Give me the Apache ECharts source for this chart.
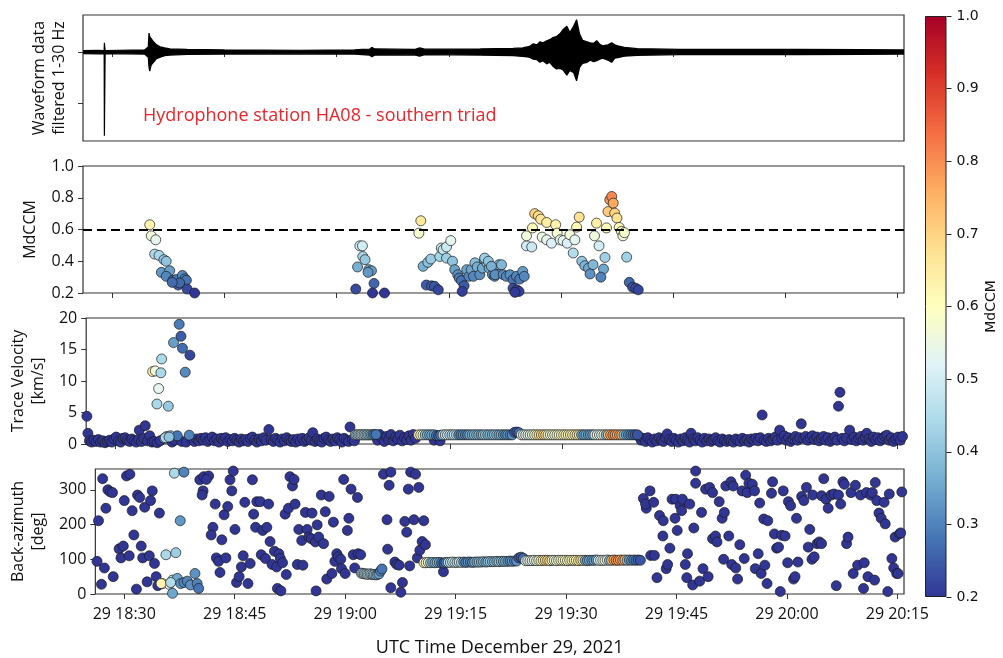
<!DOCTYPE html>
<html>
<head>
<meta charset="utf-8">
<title>HA08 southern triad</title>
<script src="https://cdn.jsdelivr.net/npm/echarts@6/dist/echarts.min.js"></script>
<style>
  html, body { margin: 0; padding: 0; background: #fff; }
  #main { width: 1003px; height: 658px; }
</style>
</head>
<body>
<div id="main"></div>
<script>
// time is given in minutes after 18:00 UTC, 29 Dec 2021
var timeTicks = [30, 45, 60, 75, 90, 105, 120, 135];
var ccmTicks = [0.2, 0.4, 0.6, 0.8, 1.0];
var velTicks = [0, 5, 10, 15, 20];
var bazTicks = [0, 100, 200, 300];
var cbarTicks = [0.2, 0.3, 0.4, 0.5, 0.6, 0.7, 0.8, 0.9, 1.0];
var threshold = 0.6;
var lowCcm = 0.2; // detections whose MdCCM is below the colour floor

// RdYlBu reversed
var cmap = ['#313695', '#4575b4', '#74add1', '#abd9e9', '#e0f3f8', '#ffffbf',
            '#fee090', '#fdae61', '#f46d43', '#d73027', '#a50026'];

// waveform envelope (relative amplitude)
var waveTime = [26.07, 28.0, 28.9, 28.93, 29.0, 29.03, 34.3, 34.8, 34.9, 35.0, 35.2, 35.5, 35.9, 36.4, 37.0, 37.7,
  40, 45, 55, 62.4, 63.4, 64.4, 64.7, 65.1, 70.4, 71.1, 71.8, 79.2, 83.6, 84.9, 85.8, 86.3, 86.8, 87.2, 87.6,
  88.1, 88.5, 88.9, 89.4, 89.9, 90.3, 90.8, 91.2, 91.7, 92.1, 92.5, 92.9, 93.5, 93.9, 94.4, 94.8, 95.2, 95.6,
  96.3, 96.8, 97.2, 97.6, 98.5, 100.2, 105.9, 115, 122, 130, 135.9];
var waveUpper = [0.03, 0.035, 0.03, 0.18, 0.18, 0.03, 0.04, 0.1, 0.37, 0.3, 0.28, 0.2, 0.14, 0.1, 0.08, 0.06,
  0.05, 0.04, 0.035, 0.04, 0.05, 0.055, 0.09, 0.06, 0.05, 0.08, 0.055, 0.06, 0.07, 0.08, 0.11, 0.16, 0.14, 0.2, 0.18,
  0.22, 0.24, 0.28, 0.3, 0.36, 0.44, 0.5, 0.38, 0.5, 0.63, 0.35, 0.23, 0.2, 0.18, 0.17, 0.22, 0.15, 0.12,
  0.14, 0.18, 0.14, 0.12, 0.09, 0.065, 0.05, 0.05, 0.05, 0.045, 0.04];
var waveLower = [-0.03, -0.035, -0.03, -1.63, -1.63, -0.03, -0.04, -0.1, -0.3, -0.37, -0.25, -0.2, -0.13, -0.1, -0.07, -0.06,
  -0.045, -0.04, -0.035, -0.04, -0.05, -0.06, -0.09, -0.06, -0.055, -0.08, -0.05, -0.06, -0.07, -0.085, -0.1, -0.14, -0.15, -0.2, -0.17,
  -0.23, -0.2, -0.27, -0.33, -0.32, -0.35, -0.45, -0.36, -0.4, -0.56, -0.3, -0.22, -0.2, -0.16, -0.19, -0.17, -0.14, -0.12,
  -0.16, -0.2, -0.12, -0.11, -0.08, -0.065, -0.05, -0.05, -0.05, -0.045, -0.04];

// MdCCM panel: [time, MdCCM]
var ccmPoints = [
  [35.0,.63],[35.2,.56],[35.8,.535],[35.66,.445],[36.24,.437],[36.9,.41],[37.2,.40],[36.55,.33],[37.67,.34],[37.2,.305],
  [38.1,.28],[38.56,.285],[38.8,.25],[39.37,.31],[39.7,.29],[39.9,.28],[39.0,.263],[40.0,.225],[41.0,.2],[38.0,.267],
  [62.56,.225],[63.1,.497],[63.45,.497],[63.5,.43],[63.8,.41],[62.8,.364],[64.3,.347],[64.66,.34],[64.2,.33],[65.0,.26],[64.8,.2],[66.4,.2],
  [71.26,.655],[71.0,.577],[71.57,.368],[72.2,.393],[72.6,.414],[72.0,.25],[72.7,.245],[73.1,.242],[73.6,.22],[73.8,.43],
  [74.0,.483],[74.25,.473],[74.7,.49],[75.27,.53],[74.7,.42],[75.5,.4],[75.8,.347],[76.2,.315],[76.4,.294],[76.7,.278],
  [77.05,.246],[76.8,.21],[77.4,.347],[77.7,.305],[78.0,.347],[78.5,.39],[78.8,.364],[78.3,.305],[79.15,.315],[79.5,.357],
  [79.8,.41],[80.1,.39],[80.4,.357],[80.85,.315],[81.15,.305],[81.6,.336],[81.7,.378],
  [79.8,.42],[80.3,.4],[80.7,.368],[81.2,.315],[82.06,.378],[82.3,.315],[82.7,.305],[83.2,.315],[83.6,.284],
  [84.07,.305],[84.5,.288],[84.9,.336],[85.1,.305],[83.6,.23],[84.07,.22],[84.4,.21],[83.85,.204],
  [85.4,.497],[86.1,.49],[85.4,.56],[86.2,.61],[86.5,.70],[86.97,.686],[87.3,.665],[88.1,.644],[87.5,.552],[88.1,.535],
  [88.75,.514],[89.3,.63],[89.5,.577],[89.9,.535],[90.3,.53],[90.85,.514],[91.2,.567],[91.87,.535],[92.1,.615],[92.45,.678],
  [91.65,.452],[92.8,.40],[93.2,.372],[93.7,.357],[94.3,.378],[93.9,.32],[94.77,.64],[94.5,.56],[95.1,.497],[95.7,.351],
  [95.35,.30],[95.9,.424],[96.1,.61],[96.3,.713],[96.55,.787],[96.8,.808],[97.0,.766],[97.2,.703],[97.5,.672],[97.8,.613],
  [98.1,.588],[98.3,.56],[98.5,.58],[98.8,.426],[99.15,.267],[99.6,.236],[100.0,.23],[100.35,.22]
];

// coherent wave train seen by all three panels: [time, MdCCM, velocity km/s, back-azimuth deg]
var strip = [
  [62.2,.42,1.45,60],[62.4,.44,1.45,59],[62.6,.46,1.45,58],[62.8,.45,1.45,58],[63.0,.47,1.45,57],[63.2,.48,1.45,57],
  [63.4,.46,1.45,58],[63.6,.44,1.45,57],[63.8,.43,1.45,56],[64.0,.45,1.45,56],[64.2,.41,1.45,55],[64.4,.38,1.45,56],
  [64.6,.34,1.45,58],[64.8,.30,1.5,66],[65.0,.28,1.5,72],
  [70.7,.62,1.45,90],[71.0,.60,1.45,90],[71.3,.56,1.45,91],[71.6,.40,1.45,90],[71.9,.38,1.45,91],[72.2,.36,1.45,90],
  [72.5,.38,1.45,91],[72.8,.35,1.45,91],[73.1,.28,1.35,90],[73.4,.25,1.3,89],[73.7,.30,1.4,91],[74.0,.45,1.45,91],
  [74.3,.48,1.45,91],[74.6,.50,1.45,92],[74.9,.47,1.45,91],[75.2,.44,1.45,91],[75.5,.49,1.45,92],[75.8,.46,1.45,91],
  [76.1,.32,1.45,92],[76.4,.30,1.45,91],[76.7,.33,1.45,92],[77.0,.30,1.45,92],[77.3,.31,1.45,91],[77.6,.38,1.45,92],
  [77.9,.36,1.45,92],[78.2,.40,1.45,92],[78.5,.37,1.45,92],[78.8,.39,1.45,93],[79.1,.35,1.45,92],[79.4,.40,1.45,93],
  [79.7,.42,1.45,93],[80.0,.38,1.45,93],[80.3,.40,1.45,93],[80.6,.37,1.45,94],[80.9,.41,1.45,93],[81.2,.39,1.45,94],
  [81.5,.36,1.45,94],[81.8,.38,1.45,94],[82.1,.33,1.45,94],[82.4,.31,1.45,95],[82.7,.34,1.45,94],[83.0,.30,1.45,95],
  [83.3,.32,1.45,95],[83.6,.25,1.85,104],[83.9,.24,1.9,106],[84.2,.27,1.8,103],[84.5,.50,1.45,96],[84.8,.53,1.45,96],
  [85.1,.55,1.45,96],[85.4,.52,1.45,96],[85.7,.56,1.45,97],[86.0,.54,1.45,96],[86.3,.57,1.45,97],[86.6,.62,1.45,96],
  [86.9,.66,1.45,97],[87.2,.68,1.45,97],[87.5,.70,1.45,97],[87.8,.67,1.45,96],[88.1,.58,1.45,97],[88.4,.56,1.45,97],
  [88.7,.55,1.45,96],[89.0,.60,1.45,97],[89.3,.57,1.45,97],[89.6,.59,1.45,97],[89.9,.60,1.45,97],[90.2,.62,1.45,96],
  [90.5,.58,1.45,97],[90.8,.61,1.45,97],[91.1,.63,1.45,97],[91.4,.60,1.45,97],[91.7,.65,1.45,96],[92.0,.67,1.45,97],
  [92.3,.64,1.45,97],[92.6,.36,1.45,97],[92.9,.34,1.45,96],[93.2,.37,1.45,97],[93.5,.33,1.45,97],[93.8,.35,1.45,97],
  [94.1,.34,1.45,98],[94.4,.52,1.45,97],[94.7,.55,1.45,97],[95.0,.50,1.45,97],[95.3,.57,1.45,97],[95.6,.53,1.45,98],
  [95.9,.38,1.45,97],[96.2,.72,1.45,97],[96.5,.76,1.45,98],[96.8,.80,1.45,97],[97.1,.78,1.45,97],[97.4,.75,1.45,98],
  [97.7,.79,1.45,97],[98.0,.74,1.45,98],[98.3,.40,1.45,97],[98.6,.35,1.45,98],[98.9,.32,1.45,97],[99.2,.30,1.45,98],
  [99.5,.28,1.45,97],[99.8,.26,1.45,98],[100.1,.24,1.45,97]
];

// first arrival group: [time, velocity, MdCCM]
var velGroup = [
  [35.0,11.5,.63],[35.35,11.6,.56],[36.1,11.3,.44],[36.2,13.5,.44],[35.8,8.8,.535],[35.57,6.35,.44],[37.1,6.0,.41],
  [37.8,16.1,.34],[38.56,19.0,.29],[38.8,17.1,.25],[39.0,15.2,.27],[40.0,14.1,.22],[39.37,11.4,.31],[36.55,0.9,.33],
  [36.9,1.2,.41],[37.4,1.3,.40],[38.3,1.3,.28],[39.9,1.4,.30],[36.7,1.0,.44],[37.2,1.1,.40]
];
// incoherent detections: [time, velocity]
var velDark = [
  [26.16,4.4],[26.3,1.7],[26.5,.5],[26.8,.3],[27.1,.6],[27.4,.4],[27.7,.7],[28.0,.3],[28.3,.5],[28.6,.2],[28.9,.4],
  [29.2,.6],[29.5,.3],[29.8,.8],[30.1,1.1],[30.4,.5],[30.7,.3],[31.0,.9],[31.3,1.0],[31.6,.6],[31.9,.4],[32.2,.8],
  [32.5,.5],[32.8,.3],[33.1,.7],[33.2,2.2],[33.5,.4],[33.8,.9],[34.0,2.9],[34.3,.5],[34.6,1.3],[34.9,.3],
  [35.2,.4],[35.6,.2],[36.0,.5],[37.6,.3],[38.0,.6],[38.9,.4],[39.5,.3],
  [40.3,.7],[40.6,.4],[40.9,.8],[41.2,.5],[41.5,.9],[41.8,.6],[42.1,1.0],[42.4,.4],[42.7,.7],[43.0,1.1],[43.3,.5],
  [43.6,.8],[43.9,.3],[44.2,.9],[44.5,.6],[44.8,1.0],[45.1,.4],[45.4,.7],[45.7,.5],[46.0,.9],[46.3,.6],[46.6,.3],
  [46.9,.8],[47.2,.5],[47.5,.7],[47.8,.4],[48.1,.9],[48.4,1.1],[48.7,.6],[49.0,.3],[49.3,.8],[49.6,.5],[49.9,1.0],
  [50.2,.6],[50.6,2.3],[50.9,.7],[51.2,.4],[51.5,.9],[51.8,.6],[52.1,.3],[52.4,.8],[52.7,.5],[53.0,1.0],[53.3,.6],
  [53.6,.4],[53.9,.7],[54.2,.3],[54.5,.8],[54.8,.5],[55.1,.9],[55.4,.4],[55.7,.7],[56.0,1.0],[56.3,.6],[56.5,1.8],
  [56.8,.4],[57.1,.8],[57.4,.5],[57.7,.3],[58.0,.9],[58.3,1.1],[58.6,.6],[58.9,.4],[59.2,.8],[59.5,.5],[59.8,1.0],
  [60.1,.7],[60.4,.3],[60.7,.9],[61.0,.6],[61.3,.4],[61.5,2.7],[61.8,.7],[62.1,.5],
  [65.2,.6],[65.5,1.5],[65.8,.9],[66.1,.4],[66.4,1.2],[66.7,.7],[67.0,1.5],[67.3,.5],[67.6,1.1],[67.9,.8],[68.2,1.4],
  [68.5,.5],[68.8,1.0],[69.1,.7],[69.4,1.3],[69.7,.6],[70.0,1.5],[70.3,.9],[72.8,.6],[73.3,1.2],[73.6,.5],
  [100.3,1.2],[100.6,.6],[100.9,.9],[101.2,.4],[101.5,1.0],[101.8,.6],[102.1,.3],[102.4,.8],[102.7,.5],[103.0,1.0],
  [103.3,.6],[103.6,.4],[103.9,1.0],[104.1,1.6],[104.4,.7],[104.7,.4],[105.0,.9],[105.3,.6],[105.6,.3],[105.9,.8],
  [106.2,.5],[106.5,1.0],[106.8,.6],[107.1,.3],[107.3,1.7],[107.6,.8],[107.9,.5],[108.2,1.0],[108.5,.6],[108.8,.3],
  [109.1,.9],[109.4,.5],[109.7,.8],[110.0,.4],[110.3,.7],[110.6,1.0],[110.9,.5],[111.2,.3],[111.5,.8],[111.8,.6],
  [112.1,.4],[112.4,.7],[112.7,.5],[113.0,.3],[113.3,.8],[113.6,.6],[113.9,.4],[114.2,.9],[114.5,.5],[114.8,.7],
  [115.1,.3],[115.4,.8],[115.7,.6],[116.0,.9],[116.3,.5],[116.6,1.0],[116.85,4.6],[117.1,.6],[117.4,.4],[117.7,.9],
  [118.0,.5],[118.3,.8],[118.6,1.1],[118.9,.6],[119.2,2.2],[119.5,.9],[119.8,1.3],[120.1,.6],[120.4,1.0],[120.7,.4],
  [121.0,.8],[121.3,1.2],[121.6,.6],[121.9,1.0],[122.1,3.2],[122.4,.9],[122.7,1.2],[123.0,.6],[123.3,1.0],[123.6,1.3],
  [123.9,.7],[124.2,1.1],[124.5,.5],[124.8,.9],[125.1,1.2],[125.4,.6],[125.7,1.0],[126.0,.4],[126.3,.8],[126.6,1.1],
  [126.9,.6],[127.1,6.0],[127.3,8.2],[127.6,.9],[127.9,.5],[128.2,1.0],[128.6,2.2],[128.9,.7],[129.2,1.1],[129.5,.5],
  [129.8,.9],[130.1,1.2],[130.4,.6],[130.7,1.0],[130.9,1.7],[131.2,.8],[131.5,.4],[131.8,1.1],[132.1,.7],[132.4,1.0],
  [132.7,.5],[133.0,.9],[133.3,1.2],[133.6,1.4],[133.9,.6],[134.2,1.0],[134.5,.4],[134.8,.8],[135.1,1.1],[135.4,.6],[135.7,1.2]
];

// first arrival group: [time, back-azimuth, MdCCM]
var bazGroup = [
  [35.2,30,.60],[35.66,113,.44],[36.1,28,.52],[36.55,40,.44],[37.0,119,.42],[36.8,348,.44],[38.1,351,.30],[37.6,211,.33],
  [37.2,45,.35],[37.67,30,.33],[38.1,33,.30],[38.56,37,.30],[39.0,26,.32],[39.6,59,.32],[39.9,30,.30],[40.1,16,.28],
  [36.55,2,.35],[35.0,30,.63],[36.3,33,.45]
];
// incoherent detections: [time, back-azimuth]
var bazDark = [
  [27.06,332],[26.5,211],[26.3,94],[27.3,75],[26.9,28],[27.77,300],[28.1,294],[28.4,292],[27.5,247],[28.5,50],[29.3,130],
  [29.55,104],[29.87,138],[30.0,269],[30.3,340],[30.76,345],[31.07,240],[31.3,170],[30.67,110],[31.65,14],[31.8,285],
  [32.1,278],[32.3,138],[32.5,104],[32.77,250],[33.1,35],[33.4,110],[33.57,269],[33.8,297],[34.1,88],[34.33,50],
  [34.77,233],[34.55,24],
  [40.26,329],[40.8,338],[41.46,340],[41.15,330],[40.7,297],[40.57,285],[42.35,259],[42.04,192],[41.8,170],[43.25,156],
  [42.5,104],[42.8,94],[43.8,104],[43.0,62],[43.56,228],[44.05,252],[44.36,329],[44.8,354],[44.6,297],[45.03,186],
  [45.25,33],[45.6,50],[45.9,78],[46.15,110],[46.37,264],[46.8,30],[47.1,88],[47.4,329],[47.57,230],[47.84,192],
  [48.0,266],[48.47,266],[48.6,113],[48.8,183],[49.18,102],[49.36,192],[49.6,259],[49.8,151],[50.07,85],[50.4,123],
  [50.7,78],[51.0,116],[51.2,102],[51.5,90],[50.8,16],[51.27,9],[52.0,56],[51.85,230],[52.3,247],[52.5,338],[52.84,311],
  [53.2,259],[53.06,330],[53.5,85],[53.7,186],[54.1,154],[54.26,83],[54.6,235],[54.84,186],[55.07,164],[55.5,233],
  [55.4,159],[55.96,150],[56.2,199],[56.4,164],[56.76,285],[57.07,145],[57.3,237],[56.05,9],[57.5,43],[57.83,281],
  [58.2,59],[58.4,207],[58.6,94],[58.86,116],[59.08,107],[59.4,100],[59.5,73],[59.8,330],[60.0,59],[60.5,218],
  [60.3,183],[60.8,302],[61.1,113],[61.3,75],[61.67,278],[61.76,116],[62.1,113],
  [65.2,345],[66.2,351],[65.97,313],[65.68,214],[65.77,129],[66.75,92],[67.0,85],[67.33,83],[66.2,18],[67.78,33],
  [67.56,5],[68.1,209],[68.36,178],[68.58,302],[68.76,81],[68.9,351],[69.56,345],[69.34,214],[70.0,307],[69.8,104],
  [70.14,126],[70.45,151],[70.68,211],[70.9,142],[73.35,64],
  [100.5,275],[100.9,247],[100.8,259],[101.4,297],[101.9,264],[101.5,111],[102.0,111],[102.35,47],[102.7,226],
  [103.2,211],[103.15,167],[103.6,73],[103.8,85],[104.1,132],[104.4,273],[104.8,218],[104.9,273],[105.1,183],
  [105.5,254],[105.7,240],[105.8,273],[106.2,85],[106.5,116],[106.4,47],[106.8,259],[107.2,26],[107.35,190],
  [107.6,354],[107.6,319],[108.15,37],[108.4,235],[108.6,73],[108.96,302],[109.3,50],[109.5,307],[109.9,159],
  [109.9,292],[110.3,167],[110.5,150],[110.8,266],[111.2,218],[111.5,235],[111.4,100],[111.7,311],[112.1,167],
  [112.4,323],[112.5,85],[112.7,311],[113.05,75],[113.3,43],[113.6,142],[113.9,297],[114.2,102],[114.4,342],
  [114.6,292],[114.84,319],[115.3,316],[115.6,297],[115.7,73],[116.1,116],[116.3,262],[116.5,59],[116.85,216],
  [117.0,83],[117.3,30],[117.4,211],[117.9,290],[118.05,323],[118.3,173],[118.6,132],[118.86,135],[119.1,7],
  [119.3,169],[119.5,297],[119.75,167],[120.1,90],[120.2,266],[120.5,254],[120.9,43],[121.1,50],[121.3,218],
  [121.5,92],[122.0,281],[122.3,269],[122.65,307],[122.9,135],[123.1,186],[123.4,100],[123.7,107],[123.5,285],
  [124.1,145],[124.4,150],[124.7,145],[125.0,332],[124.7,283],[125.3,273],[125.6,247],[126.0,285],[126.4,288],
  [126.7,24],[127.0,285],[127.3,259],[127.6,323],[127.8,316],[128.1,145],[128.3,164],[128.7,292],[129.0,59],
  [129.3,313],[129.6,83],[130.0,285],[130.4,16],[130.5,90],[130.8,292],[131.0,50],[131.35,285],[131.6,292],
  [132.0,321],[131.9,40],[132.2,269],[132.5,233],[132.8,218],[133.2,264],[133.35,202],[133.7,7],[133.9,288],
  [134.25,102],[134.5,75],[134.7,164],[134.9,59],[135.1,59],[135.3,173],[135.6,294],[135.45,176]
];

var chart = echarts.init(document.getElementById('main'));

var FONT = '"Open Sans", "Noto Sans", sans-serif';
var tMin = 26.07, tMax = 135.9;

function timeLabel(v) {
  var h = 18 + Math.floor(v / 60);
  var m = Math.round(v % 60);
  return '29 ' + h + ':' + (m < 10 ? '0' : '') + m;
}

function makeX(gi, labels) {
  return {
    type: 'value', gridIndex: gi, min: tMin, max: tMax,
    axisLine: { show: false },
    splitLine: { show: false },
    axisTick: { show: true, length: 5, customValues: timeTicks, lineStyle: { color: '#333' } },
    axisLabel: {
      show: labels, customValues: timeTicks, formatter: timeLabel, margin: 12,
      fontSize: 16, color: '#111', fontFamily: FONT
    },
    name: labels ? 'UTC Time December 29, 2021' : '',
    nameLocation: 'middle', nameGap: 45,
    nameTextStyle: { fontSize: 18, color: '#111', fontFamily: FONT }
  };
}

function makeY(gi, min, max, ticks, name, gap, fmt) {
  return {
    type: 'value', gridIndex: gi, min: min, max: max,
    axisLine: { show: false },
    splitLine: { show: false },
    axisTick: { show: true, length: 5, customValues: ticks, lineStyle: { color: '#333' } },
    axisLabel: {
      show: !!fmt, customValues: ticks, formatter: fmt, margin: 9,
      fontSize: 16, color: '#111', fontFamily: FONT
    },
    name: name, nameLocation: 'middle', nameRotate: 90, nameGap: gap,
    nameTextStyle: { fontSize: 16, color: '#111', fontFamily: FONT, lineHeight: 20, align: 'center' }
  };
}

var gridBase = { left: 83, right: 99, show: true, borderColor: '#333', borderWidth: 1.2, backgroundColor: '#fff' };

var scatterStyle = { borderColor: '#1a1a1a', borderWidth: 0.7, opacity: 1 };

var velData = velDark.map(function (p) { return [p[0], p[1], lowCcm]; })
  .concat(velGroup)
  .concat(strip.map(function (r) { return [r[0], r[2], r[1]]; }));
var bazData = bazDark.map(function (p) { return [p[0], p[1], lowCcm]; })
  .concat(bazGroup)
  .concat(strip.map(function (r) { return [r[0], r[3], r[1]]; }));
var ccmData = ccmPoints.map(function (p) { return [p[0], p[1], p[1]]; });

var stops = cmap.map(function (c, i) { return { offset: i / (cmap.length - 1), color: c }; });

var option = {
  animation: false,
  backgroundColor: '#fff',
  title: {
    text: 'Hydrophone station HA08 - southern triad',
    left: 143, top: 107, padding: 0,
    textStyle: { color: '#e8262b', fontSize: 18, fontWeight: 'normal', fontFamily: FONT }
  },
  grid: [
    Object.assign({ top: 15, height: 126 }, gridBase),
    Object.assign({ top: 166, height: 127 }, gridBase),
    Object.assign({ top: 318, height: 126 }, gridBase),
    Object.assign({ top: 469, height: 127 }, gridBase),
    { left: 925, width: 21.5, top: 16, height: 581, show: false }
  ],
  xAxis: [
    makeX(0, false), makeX(1, false), makeX(2, false), makeX(3, true),
    { type: 'category', gridIndex: 4, data: [''], show: false }
  ],
  yAxis: [
    makeY(0, -1.73, 0.72, [0, -1], 'Waveform data\nfiltered 1-30 Hz', 14, null),
    makeY(1, 0.2, 1.0, ccmTicks, 'MdCCM', 40, function (v) { return v.toFixed(1); }),
    makeY(2, 0, 20, velTicks, 'Trace Velocity\n[km/s]', 31, function (v) { return String(v); }),
    makeY(3, 0, 360, bazTicks, 'Back-azimuth\n[deg]', 31, function (v) { return String(v); }),
    {
      type: 'value', gridIndex: 4, position: 'right', min: 0.2, max: 1.0,
      axisLine: { show: false }, splitLine: { show: false },
      axisTick: { show: true, length: 5, customValues: cbarTicks, lineStyle: { color: '#222' } },
      axisLabel: {
        customValues: cbarTicks, formatter: function (v) { return v.toFixed(1); },
        margin: 10, fontSize: 14, color: '#111', fontFamily: '"DejaVu Sans", sans-serif'
      },
      name: 'MdCCM', nameLocation: 'middle', nameRotate: 90, nameGap: 38,
      nameTextStyle: { fontSize: 14, color: '#111', fontFamily: '"DejaVu Sans", sans-serif' }
    }
  ],
  visualMap: {
    type: 'continuous', show: false, min: 0.2, max: 1.0, dimension: 2,
    seriesIndex: [2, 3, 4],
    inRange: { color: cmap }
  },
  series: [
    {
      type: 'line', xAxisIndex: 0, yAxisIndex: 0, symbol: 'none',
      data: waveTime.map(function (t, i) { return [t, waveUpper[i]]; }),
      lineStyle: { color: '#000', width: 1.2 }, areaStyle: { color: '#000', opacity: 1 }
    },
    {
      type: 'line', xAxisIndex: 0, yAxisIndex: 0, symbol: 'none',
      data: waveTime.map(function (t, i) { return [t, waveLower[i]]; }),
      lineStyle: { color: '#000', width: 1.2 }, areaStyle: { color: '#000', opacity: 1 }
    },
    {
      type: 'scatter', xAxisIndex: 1, yAxisIndex: 1, symbolSize: 10,
      data: ccmData, itemStyle: scatterStyle,
      markLine: {
        silent: true, symbol: 'none', label: { show: false },
        lineStyle: { color: '#000', type: [9, 5], width: 2 },
        data: [{ yAxis: threshold }]
      }
    },
    {
      type: 'scatter', xAxisIndex: 2, yAxisIndex: 2, symbolSize: 10,
      data: velData, itemStyle: scatterStyle
    },
    {
      type: 'scatter', xAxisIndex: 3, yAxisIndex: 3, symbolSize: 10,
      data: bazData, itemStyle: scatterStyle
    },
    {
      type: 'bar', xAxisIndex: 4, yAxisIndex: 4, stack: 'cb', barWidth: '100%',
      data: [0.2], itemStyle: { color: 'rgba(0,0,0,0)' }, silent: true
    },
    {
      type: 'bar', xAxisIndex: 4, yAxisIndex: 4, stack: 'cb', barWidth: '100%',
      data: [0.8], silent: true,
      itemStyle: {
        color: new echarts.graphic.LinearGradient(0, 1, 0, 0, stops),
        borderColor: '#222', borderWidth: 1
      }
    }
  ]
};

chart.setOption(option);
</script>
</body>
</html>
